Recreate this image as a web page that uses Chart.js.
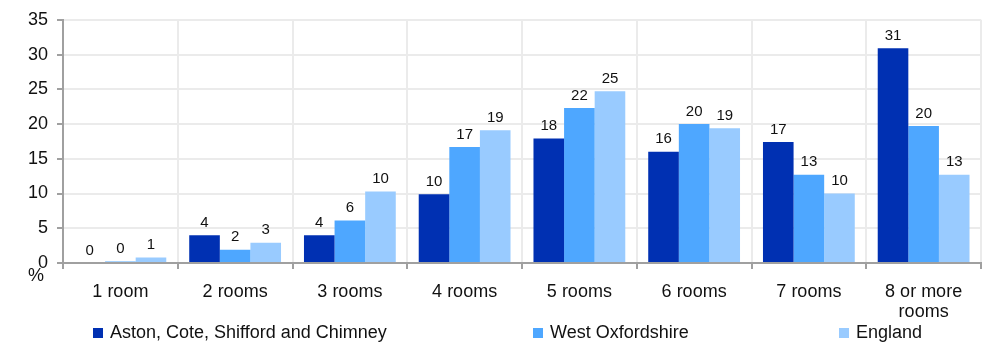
<!DOCTYPE html>
<html lang="en">
<head>
<meta charset="UTF-8">
<title>Rooms per household</title>
<script src="https://cdn.jsdelivr.net/npm/chart.js"></script>
<style>
  body { margin: 0; background: #fff; font-family: "Liberation Sans", Arial, sans-serif; }
  .wrap { position: relative; width: 989px; height: 342px; }
  .pct { position: absolute; left: 28px; top: 265px; font-size: 18px; color: #111; }
  .legend { position: absolute; top: 0; left: 0; width: 989px; height: 342px; font-size: 18px; color: #111; }
  .legend .sw { position: absolute; top: 328px; width: 10px; height: 10px; }
  .legend .tx { position: absolute; top: 322px; white-space: nowrap; line-height: 21px; }
</style>
</head>
<body>
<div class="wrap">
  <canvas id="myChart" width="989" height="342"></canvas>
  <div class="pct">%</div>
  <div class="legend" id="legend"></div>
</div>
<script>
const categories = ['1 room', '2 rooms', '3 rooms', '4 rooms', '5 rooms', '6 rooms', '7 rooms', ['8 or more', 'rooms']];
const seriesNames = ['Aston, Cote, Shifford and Chimney', 'West Oxfordshire', 'England'];
const aston = [0, 4.0, 4.0, 9.9, 17.9, 16.0, 17.4, 30.9];
const westOx = [0.2, 1.9, 6.1, 16.7, 22.3, 20.0, 12.7, 19.7];
const england = [0.8, 2.9, 10.3, 19.1, 24.7, 19.4, 10.0, 12.7];
const colors = ['#0030b2', '#4ea7ff', '#99cbff'];
const legendX = [93, 533, 839];

// legend under the chart
const legend = document.getElementById('legend');
seriesNames.forEach(function (name, i) {
    const sw = document.createElement('div');
    sw.className = 'sw';
    sw.style.left = legendX[i] + 'px';
    sw.style.background = colors[i];
    legend.appendChild(sw);
    const tx = document.createElement('div');
    tx.className = 'tx';
    tx.style.left = (legendX[i] + 17) + 'px';
    tx.textContent = name;
    legend.appendChild(tx);
});

const valueLabels = {
    id: 'valueLabels',
    afterDatasetsDraw(chart) {
        const ctx = chart.ctx;
        ctx.save();
        ctx.font = '15px "Liberation Sans", Arial, sans-serif';
        ctx.fillStyle = '#111';
        ctx.textAlign = 'center';
        ctx.textBaseline = 'bottom';
        chart.data.datasets.forEach(function (ds, di) {
            chart.getDatasetMeta(di).data.forEach(function (bar, i) {
                ctx.fillText(Math.round(ds.data[i]), bar.x, bar.y - 5);
            });
        });
        ctx.restore();
    }
};

Chart.defaults.font.family = '"Liberation Sans", Arial, sans-serif';
Chart.defaults.font.size = 18;
Chart.defaults.color = '#111';

new Chart(document.getElementById('myChart').getContext('2d'), {
    type: 'bar',
    data: {
        labels: categories,
        datasets: [
            { label: seriesNames[0], data: aston, backgroundColor: colors[0] },
            { label: seriesNames[1], data: westOx, backgroundColor: colors[1] },
            { label: seriesNames[2], data: england, backgroundColor: colors[2] }
        ]
    },
    options: {
        responsive: false,
        animation: false,
        layout: { padding: { top: 17, right: 8, bottom: 0, left: 0 } },
        plugins: { legend: { display: false }, tooltip: { enabled: false } },
        datasets: { bar: { categoryPercentage: 0.8, barPercentage: 1.0 } },
        scales: {
            x: {
                grid: { color: '#ebebeb', lineWidth: 2, tickColor: '#a0a0a0', tickLength: 6, offset: true },
                border: { color: '#a0a0a0', width: 2 },
                ticks: { padding: 13, maxRotation: 0, font: { size: 18, lineHeight: 1.11 } },
                afterFit(scale) { scale.height = 79; }
            },
            y: {
                min: 0, max: 35,
                grid: { color: '#ebebeb', lineWidth: 2, tickColor: '#a0a0a0', tickLength: 6 },
                border: { color: '#a0a0a0', width: 2 },
                ticks: { stepSize: 5, padding: 9, font: { size: 18 } },
                afterFit(scale) { scale.width = 63; }
            }
        }
    },
    plugins: [valueLabels]
});
</script>
</body>
</html>
